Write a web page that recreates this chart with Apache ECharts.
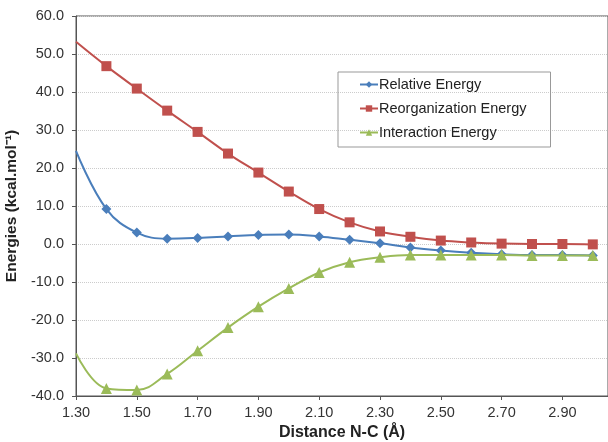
<!DOCTYPE html>
<html><head><meta charset="utf-8">
<script src="https://cdn.jsdelivr.net/npm/echarts@6/dist/echarts.min.js"></script>
<style>html,body{margin:0;padding:0;background:#fff}#c{width:608px;height:442px}</style>
</head><body><div id="c"></div>
<script>
const distances = [1.30,1.40,1.50,1.60,1.70,1.80,1.90,2.00,2.10,2.20,2.30,2.40,2.50,2.60,2.70,2.80,2.90,3.00];
const relativeEnergy = [24.5,9.2,3.0,1.4,1.6,2.0,2.4,2.5,2.0,1.1,0.2,-0.9,-1.7,-2.3,-2.7,-2.9,-2.9,-3.0];
const reorganizationEnergy = [53.2,46.8,40.9,35.1,29.5,23.8,18.8,13.8,9.2,5.7,3.3,1.9,0.9,0.4,0.1,0.0,0.0,-0.1];
const interactionEnergy = [-28.8,-38.0,-38.4,-34.2,-28.1,-22.0,-16.5,-11.7,-7.5,-4.8,-3.5,-2.9,-2.9,-2.9,-2.9,-3.0,-3.0,-3.0];
const yTicks = [-40,-30,-20,-10,0,10,20,30,40,50,60];
const xTicks = [1.30,1.50,1.70,1.90,2.10,2.30,2.50,2.70,2.90];

function pts(vals){
  return distances.map((d,i)=> i===0 ? {value:[d,vals[i]], symbol:'none'} : {value:[d,vals[i]]});
}
const font = 'Liberation Sans, Arial, sans-serif';
const chart = echarts.init(document.getElementById('c'));
chart.setOption({
  animation:false,
  grid:{left:76,top:16,right:0,bottom:46,show:true,borderColor:'#555',borderWidth:1,outerBoundsMode:'none',containLabel:false},
  legend:{
    orient:'vertical', left:338, top:72, width:212, height:76,
    padding:[5,24,7,21],
    itemWidth:18, itemHeight:8, itemGap:9,
    borderColor:'#999', borderWidth:1,
    textStyle:{fontFamily:font,fontSize:14.5,color:'#222',padding:[0,0,0,-4]},
    data:['Relative Energy','Reorganization Energy','Interaction Energy']
  },
  xAxis:{
    type:'value', min:1.30, max:3.05, interval:0.2,
    name:'Distance N-C (Å)', nameLocation:'middle', nameGap:29,
    nameTextStyle:{fontFamily:font,fontSize:16,fontWeight:'bold',color:'#222'},
    axisLine:{onZero:false,lineStyle:{color:'#555',width:1}},
    axisTick:{show:true,length:4,lineStyle:{color:'#555'}},
    splitLine:{show:false},
    axisLabel:{fontFamily:font,fontSize:14.5,color:'#333',margin:9,showMaxLabel:false,
      formatter:v=>{const t=xTicks.find(x=>Math.abs(x-v)<1e-6);return t===undefined?'':t.toFixed(2);}}
  },
  yAxis:{
    type:'value', min:-40, max:60, interval:10,
    name:'Energies (kcal.mol⁻¹)', nameLocation:'middle', nameGap:52,
    nameTextStyle:{fontFamily:font,fontSize:15.5,fontWeight:'bold',color:'#222'},
    axisLine:{show:true,lineStyle:{color:'#555',width:1}},
    axisTick:{show:true,length:4,lineStyle:{color:'#555'}},
    splitLine:{show:true,lineStyle:{color:'#ccc',type:'dotted'}},
    axisLabel:{fontFamily:font,fontSize:14.5,color:'#333',margin:12,
      formatter:v=>{const t=yTicks.find(x=>Math.abs(x-v)<1e-6);return t===undefined?'':t.toFixed(1);}}
  },
  series:[
    {name:'Reorganization Energy',type:'line',smooth:0.4,data:pts(reorganizationEnergy),
     symbol:'rect',symbolSize:10,lineStyle:{color:'#C0504D',width:2},itemStyle:{color:'#C0504D'},z:2},
    {name:'Relative Energy',type:'line',smooth:0.4,data:pts(relativeEnergy),
     symbol:'diamond',symbolSize:10,lineStyle:{color:'#4A7EBB',width:2},itemStyle:{color:'#4A7EBB'},z:3},
    {name:'Interaction Energy',type:'line',smooth:0.4,data:pts(interactionEnergy),
     symbol:'triangle',symbolSize:11,lineStyle:{color:'#9BBB59',width:2},itemStyle:{color:'#9BBB59'},z:4}
  ]
});
</script></body></html>
